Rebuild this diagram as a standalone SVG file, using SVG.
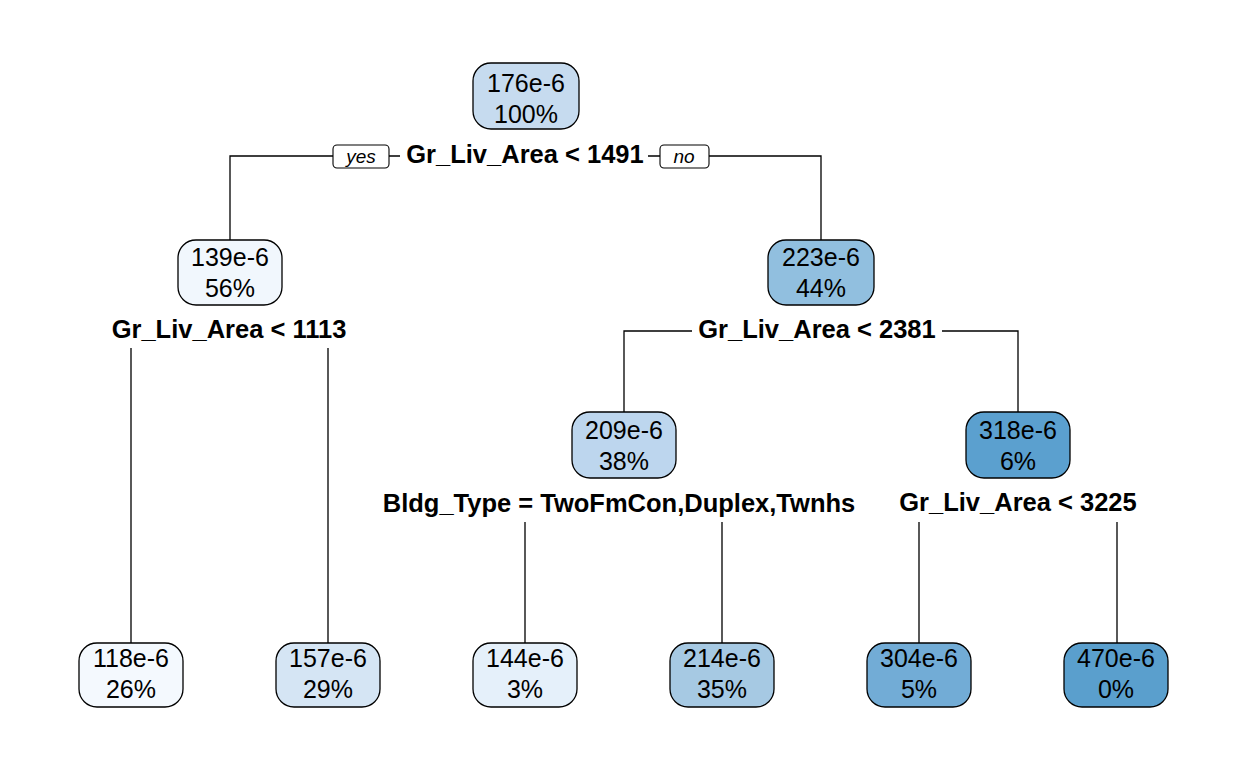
<svg xmlns="http://www.w3.org/2000/svg" width="1248" height="768" viewBox="0 0 1248 768">
<style>
.box{stroke:#000;stroke-width:1.3}
.t{font-family:"Liberation Sans",Arial,sans-serif;font-size:25px;text-anchor:middle;fill:#000}
.s{font-family:"Liberation Sans",Arial,sans-serif;font-size:25.5px;font-weight:bold;text-anchor:middle;fill:#000}
.yn{font-family:"Liberation Sans",Arial,sans-serif;font-size:19px;font-style:italic;text-anchor:middle;fill:#000}
.c{stroke:#000;stroke-width:1.3;fill:none}
.lb{fill:#fff;stroke:#000;stroke-width:1.1}
</style>
<rect width="1248" height="768" fill="#fff"/>
<g id="connectors">
<path class="c" d="M230,240 V156 H333 M389,156 H400 M648,156 H660 M709,156 H821 V240"/>
<path class="c" d="M131,348 V643 M328,348 V643"/>
<path class="c" d="M624,412 V331 H692 M942,331 H1018 V412"/>
<path class="c" d="M525,522 V643 M722,522 V643 M919,522 V643 M1117,522 V643"/>
<rect class="lb" x="333" y="145" width="56" height="23" rx="4"/>
<text class="yn" x="361" y="163">yes</text>
<rect class="lb" x="660" y="145" width="49" height="23" rx="4"/>
<text class="yn" x="684" y="163">no</text>
</g>
<g id="n1">
<rect class="box" x="473" y="63" width="106" height="66" rx="18" fill="#c6dbef"/>
<text class="t" x="526" y="92">176e-6</text><text class="t" x="526" y="123">100%</text>
<text class="s" x="525" y="163">Gr_Liv_Area &lt; 1491</text>
</g>
<g id="n2">
<rect class="box" x="178" y="240" width="104" height="65" rx="18" fill="#f1f7fd"/>
<text class="t" x="230" y="266">139e-6</text><text class="t" x="230" y="297">56%</text>
<text class="s" x="229" y="338">Gr_Liv_Area &lt; 1113</text>
</g>
<g id="n3">
<rect class="box" x="768" y="240" width="106" height="65" rx="18" fill="#91bfdf"/>
<text class="t" x="821" y="266">223e-6</text><text class="t" x="821" y="297">44%</text>
<text class="s" x="817" y="338">Gr_Liv_Area &lt; 2381</text>
</g>
<g id="n4">
<rect class="box" x="79" y="643" width="104" height="64" rx="18" fill="#f4f9fe"/>
<text class="t" x="131" y="667">118e-6</text><text class="t" x="131" y="698">26%</text>
</g>
<g id="n5">
<rect class="box" x="276" y="643" width="104" height="64" rx="18" fill="#d5e5f4"/>
<text class="t" x="328" y="667">157e-6</text><text class="t" x="328" y="698">29%</text>
</g>
<g id="n6">
<rect class="box" x="572" y="412" width="104" height="66" rx="18" fill="#bdd6ee"/>
<text class="t" x="624" y="439">209e-6</text><text class="t" x="624" y="470">38%</text>
<text class="s" x="619" y="512">Bldg_Type = TwoFmCon,Duplex,Twnhs</text>
</g>
<g id="n7">
<rect class="box" x="966" y="412" width="104" height="66" rx="18" fill="#5ba0cf"/>
<text class="t" x="1018" y="439">318e-6</text><text class="t" x="1018" y="470">6%</text>
<text class="s" x="1018" y="511">Gr_Liv_Area &lt; 3225</text>
</g>
<g id="n12">
<rect class="box" x="473" y="643" width="104" height="64" rx="18" fill="#e5f0fa"/>
<text class="t" x="525" y="667">144e-6</text><text class="t" x="525" y="698">3%</text>
</g>
<g id="n13">
<rect class="box" x="670" y="643" width="104" height="64" rx="18" fill="#a6c9e3"/>
<text class="t" x="722" y="667">214e-6</text><text class="t" x="722" y="698">35%</text>
</g>
<g id="n14">
<rect class="box" x="867" y="643" width="104" height="64" rx="18" fill="#72acd6"/>
<text class="t" x="919" y="667">304e-6</text><text class="t" x="919" y="698">5%</text>
</g>
<g id="n15">
<rect class="box" x="1064" y="643" width="104" height="64" rx="18" fill="#5a9fcd"/>
<text class="t" x="1116" y="667">470e-6</text><text class="t" x="1116" y="698">0%</text>
</g>
</svg>
